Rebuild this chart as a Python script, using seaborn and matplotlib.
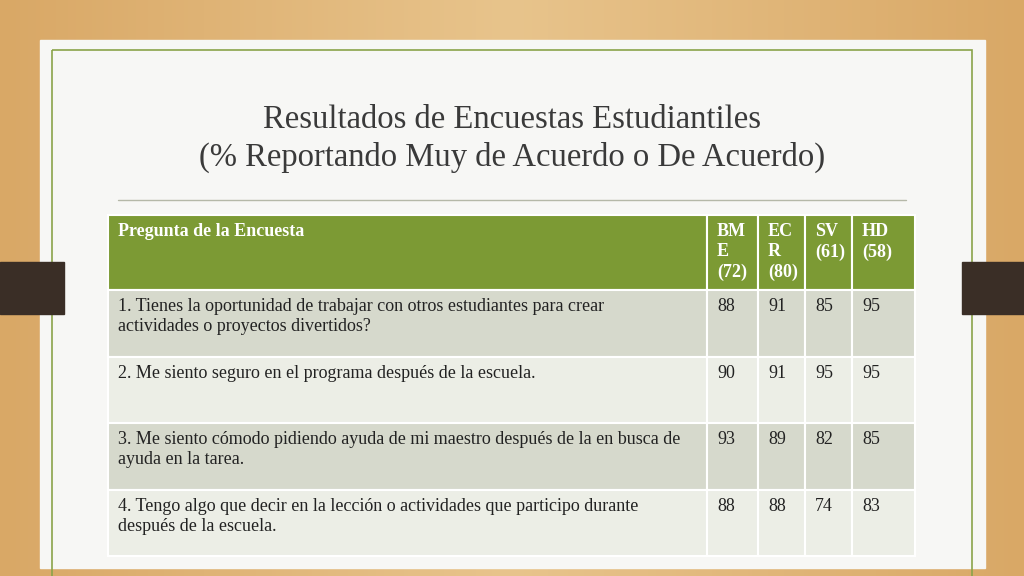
import matplotlib
matplotlib.use("Agg")
import matplotlib.pyplot as plt
import seaborn as sns
import numpy as np
from matplotlib.patches import Rectangle

sns.set_theme(style="white")

title = "Resultados de Encuestas Estudiantiles\n(% Reportando Muy de Acuerdo o De Acuerdo)"
header = ["Pregunta de la Encuesta", "BM\nE\n(72)", "EC\nR\n(80)", "SV\n(61)", "HD\n(58)"]
questions = [
    "1. Tienes la oportunidad de trabajar con otros estudiantes para crear\nactividades o proyectos divertidos?",
    "2. Me siento seguro en el programa después de la escuela.",
    "3. Me siento cómodo pidiendo ayuda de mi maestro después de la en busca de\nayuda en la tarea.",
    "4. Tengo algo que decir en la lección o actividades que participo durante\ndespués de la escuela.",
]
bme = [88, 90, 93, 88]
ecr = [91, 91, 89, 88]
sv = [85, 95, 82, 74]
hd = [95, 95, 85, 83]

fig = plt.figure(figsize=(10.24, 5.76), dpi=100)
ax = fig.add_axes([0, 0, 1, 1])
ax.set_xlim(0, 1024); ax.set_ylim(576, 0); ax.axis("off")

grad = np.linspace(0, 1, 256).reshape(1, -1)
ax.imshow(np.vstack([grad] * 2), extent=[0, 1024, 576, 0], aspect="auto",
          cmap=matplotlib.colors.LinearSegmentedColormap.from_list("w", ["#d9a866", "#e8c48c", "#d9a866"]))
ax.add_patch(Rectangle((40, 40), 945, 528, color="#f7f7f5"))
ax.add_patch(Rectangle((52, 50), 920, 530, fill=False, ec="#8aa34a", lw=1.2))
ax.add_patch(Rectangle((0, 262), 64, 52, color="#3a2e26"))
ax.add_patch(Rectangle((962, 262), 62, 52, color="#3a2e26"))

ax.text(512, 139, title, ha="center", va="center", fontsize=23.5,
        family="Liberation Serif", color="#3a3a3a", linespacing=1.3)
ax.plot([118, 906], [200, 200], color="#b5b8a8", lw=1)

col_x = [108, 707, 758, 805, 852, 915]
row_y = [215, 290, 357, 423, 490, 556]
data = np.array([bme, ecr, sv, hd]).T
fills = ["#d6d9cc", "#eceee6", "#d6d9cc", "#eceee6"]
fs = 13

for c in range(5):
    ax.add_patch(Rectangle((col_x[c], row_y[0]), col_x[c + 1] - col_x[c], row_y[1] - row_y[0],
                           fc="#7c9a34", ec="white", lw=1.5))
    ax.text(col_x[c] + 10, row_y[0] + 8, header[c], ha="left", va="top", fontsize=fs,
            family="Liberation Serif", color="white", weight="bold", linespacing=1.25)
for r in range(4):
    for c in range(5):
        ax.add_patch(Rectangle((col_x[c], row_y[r + 1]), col_x[c + 1] - col_x[c],
                               row_y[r + 2] - row_y[r + 1], fc=fills[r], ec="white", lw=1.5))
        txt = questions[r] if c == 0 else str(data[r, c - 1])
        ax.text(col_x[c] + 10, row_y[r + 1] + 8, txt, ha="left", va="top", fontsize=fs,
                family="Liberation Serif", color="#222222", linespacing=1.25)

fig.savefig("out.png", dpi=100)
